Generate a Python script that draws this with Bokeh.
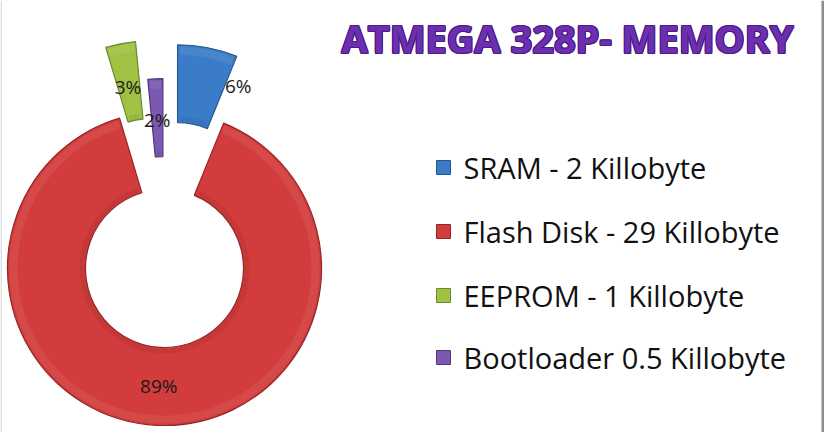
import math
from bokeh.plotting import figure
from bokeh.models import Range1d, Span
from bokeh.core.properties import value
from bokeh.embed import file_html
from bokeh.resources import INLINE

# ---- data ----
title_text = "ATMEGA 328P- MEMORY"
categories = ["SRAM - 2 Killobyte", "Flash Disk - 29 Killobyte",
              "EEPROM - 1 Killobyte", "Bootloader 0.5 Killobyte"]
sizes_kb = [2, 29, 1, 0.5]

# ---- style ----
fill_colors = ["#3b7cc8", "#d23c3c", "#a0c244", "#7c59b0"]
edge_colors = ["#24588f", "#962626", "#6d8a2a", "#52367c"]
explode_px = [68, 0, 72, 33]
W, H = 824, 432
CX, CY = 164, 268          # donut centre (pixels from top-left)
R_OUT, R_IN = 157, 79
FONT = "Open Sans"

def py(y):
    return H - y

p = figure(width=W, height=H, x_range=Range1d(0, W), y_range=Range1d(0, H),
           output_backend="svg", toolbar_location=None, min_border=0)
p.axis.visible = False
p.grid.visible = False
p.outline_line_color = None
p.background_fill_color = "white"
p.border_fill_color = "white"

total = sum(sizes_kb)
pct = [round(100 * s / total) for s in sizes_kb]

start_cw = 0.0
lab_x, lab_y, lab_t = [], [], []
for i, s in enumerate(sizes_kb):
    sweep = 360.0 * s / total
    a0, a1 = start_cw, start_cw + sweep
    mid = math.radians((a0 + a1) / 2)
    d = explode_px[i]
    cx = CX + d * math.sin(mid)
    cy = CY - d * math.cos(mid)
    sa = math.radians(90 - a1)
    ea = math.radians(90 - a0)
    p.annular_wedge(x=[cx], y=[py(cy)], inner_radius=R_IN, outer_radius=R_OUT,
                    start_angle=sa, end_angle=ea, direction="anticlock",
                    fill_color=fill_colors[i], line_color=edge_colors[i],
                    line_width=1.2)
    # soft bevel highlight / shadow
    p.annular_wedge(x=[cx], y=[py(cy)], inner_radius=R_OUT - 10, outer_radius=R_OUT - 2,
                    start_angle=sa + 2.0 / R_OUT, end_angle=ea - 2.0 / R_OUT,
                    direction="anticlock", fill_color="white", fill_alpha=0.07,
                    line_color=None)
    p.annular_wedge(x=[cx], y=[py(cy)], inner_radius=R_IN + 1, outer_radius=R_IN + 6,
                    start_angle=sa + 2.0 / R_IN, end_angle=ea - 2.0 / R_IN,
                    direction="anticlock", fill_color="black", fill_alpha=0.06,
                    line_color=None)
    rm = (R_IN + R_OUT) / 2
    lab_x.append(cx + rm * math.sin(mid))
    lab_y.append(py(cy - rm * math.cos(mid)))
    lab_t.append(f"{pct[i]}%")
    start_cw = a1

label_dx = [38, 0, 0, 0]
label_dy = [0, 0, 5, 2]
for i in range(len(lab_t)):
    p.text(x=[lab_x[i]], y=[lab_y[i]], text=[lab_t[i]], x_offset=label_dx[i],
           y_offset=label_dy[i], text_align="center", text_baseline="middle",
           text_font=value(FONT), text_font_size="19px", text_color="#1a1a1a")

# legend
leg_x_sq, leg_x_txt = 443, 463
leg_mid = [167, 231, 295, 357]
for i, c in enumerate(categories):
    my = leg_mid[i]
    p.rect(x=[leg_x_sq], y=[py(my)], width=14, height=14,
           fill_color=fill_colors[i], line_color=edge_colors[i], line_width=1)
    p.text(x=[leg_x_txt], y=[py(my)], text=[c], text_align="left",
           text_baseline="middle", text_font=value(FONT),
           text_font_size="29px", text_color="#111111")

# title
tx, ty = 341, 37
for dx, dy in [(-1, 0), (1, 0), (0, -1), (0, 1), (1, 1), (-1, -1), (1, -1), (-1, 1)]:
    p.text(x=[tx], y=[py(ty)], text=[title_text], x_offset=dx, y_offset=dy,
           text_align="left", text_baseline="alphabetic", text_font=value(FONT),
           text_font_style="bold", text_font_size="38px", text_color="#4a1c86")
p.text(x=[tx], y=[py(ty)], text=[title_text], text_align="left",
       text_baseline="alphabetic", text_font=value(FONT), text_font_style="bold",
       text_font_size="38px", text_color="#6c2fb0")

# frame edges
p.add_layout(Span(location=0.5, dimension="height", line_color="#c8c8c8", line_width=1))
p.add_layout(Span(location=822.5, dimension="height", line_color="#8c8c8c", line_width=3))

open("out.html", "w").write(file_html(p, INLINE))
